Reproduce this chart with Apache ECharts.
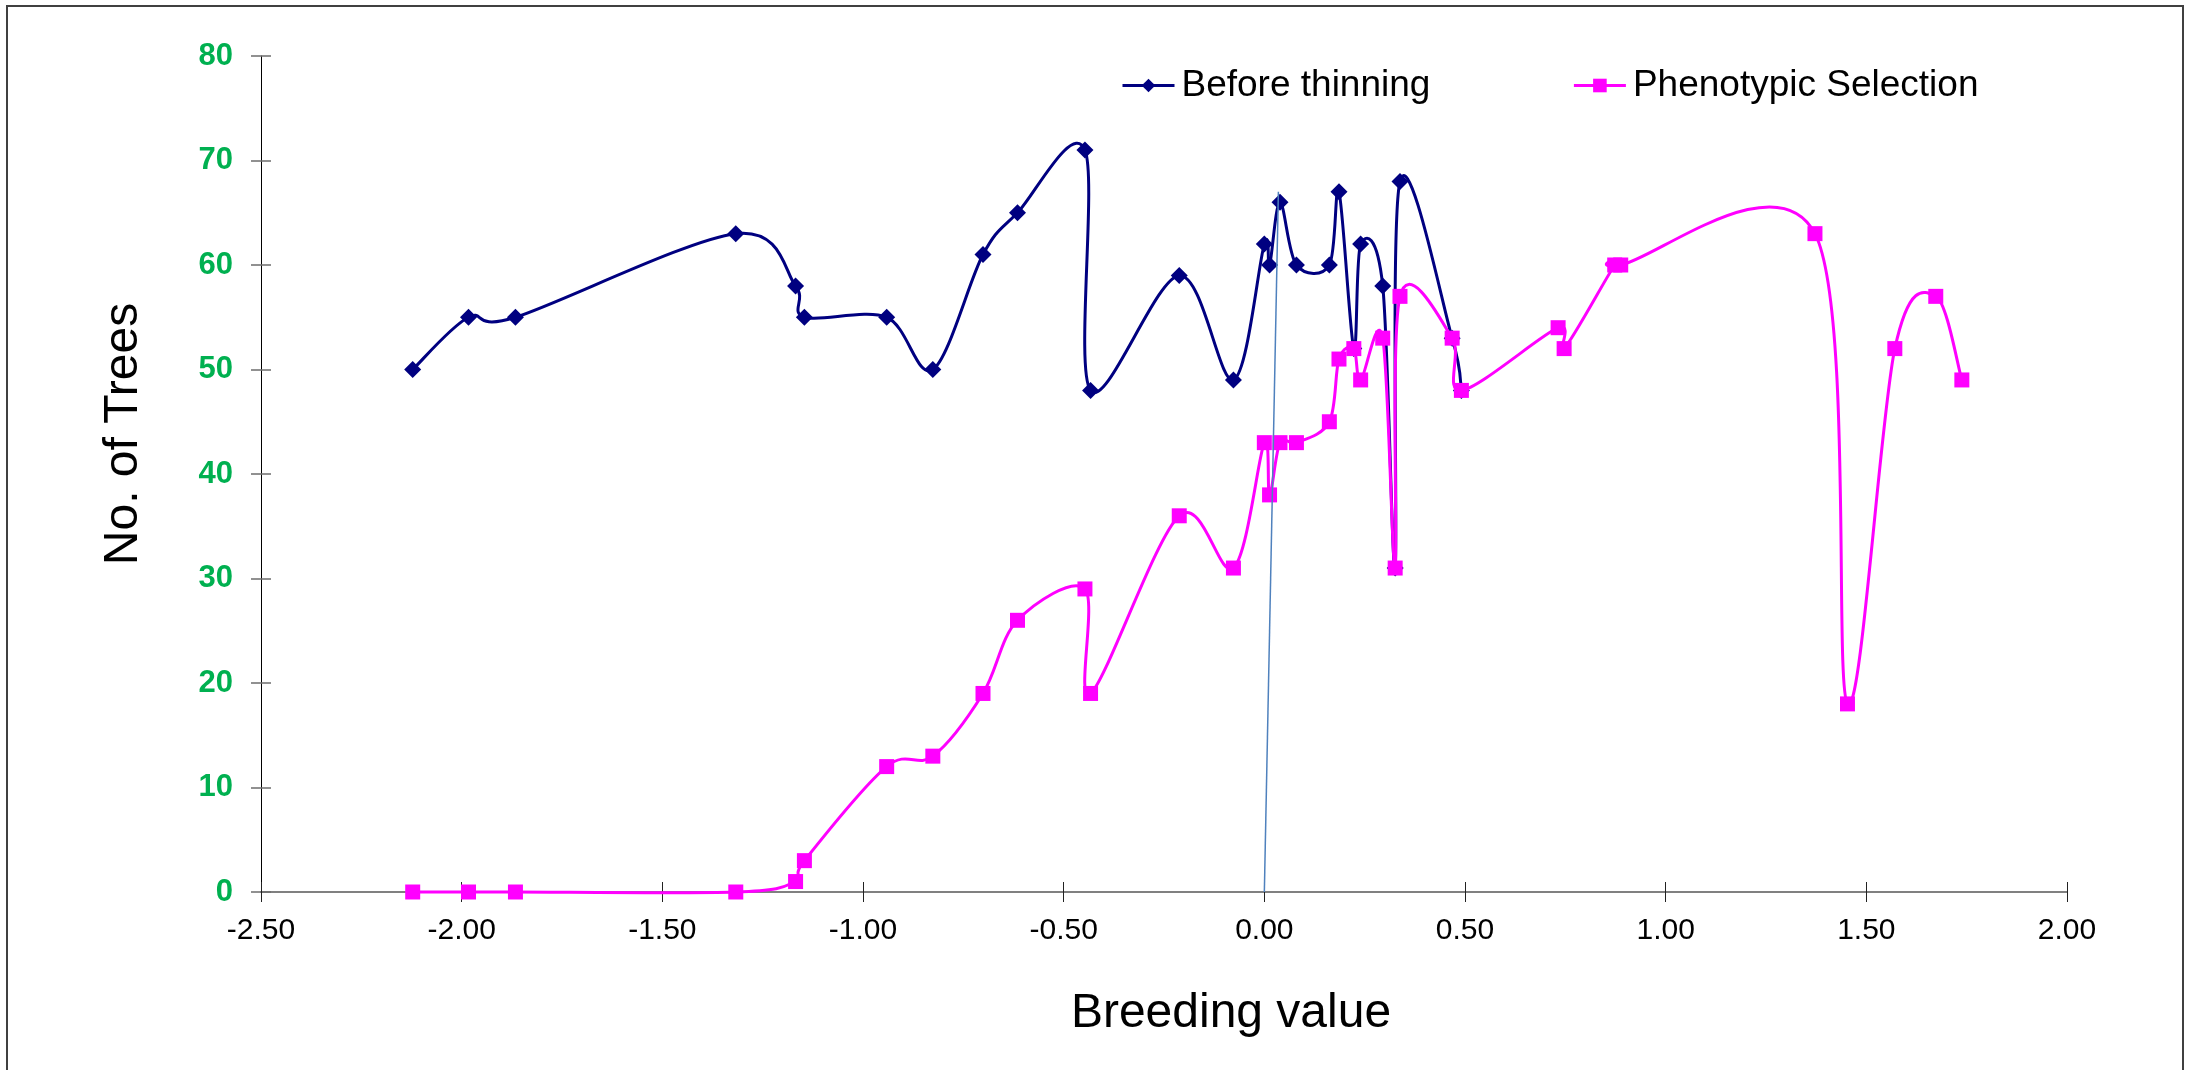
<!DOCTYPE html>
<html>
<head>
<meta charset="utf-8">
<script src="https://cdn.jsdelivr.net/npm/echarts@6/dist/echarts.min.js"></script>
<style>
  html, body { margin: 0; padding: 0; background: #ffffff; }
  #chart { width: 2200px; height: 1070px; }
</style>
</head>
<body>
<div id="chart"></div>
<script>
// ---- data ----
const breedingValue = [-2.122, -1.983, -1.866, -1.317, -1.168, -1.146, -0.941, -0.826, -0.701, -0.615,
  -0.447, -0.433, -0.212, -0.077, 0.000, 0.013, 0.039, 0.080, 0.162, 0.186,
  0.223, 0.240, 0.295, 0.326, 0.338, 0.468, 0.491, 0.732, 0.747, 0.873,
  0.888, 1.372, 1.453, 1.571, 1.673, 1.738];
const beforeThinning = [50, 55, 55, 63, 58, 55, 55, 50, 61, 65,
  71, 48, 59, 49, 62, 60, 66, 60, 60, 67,
  52, 62, 58, 31, 68, 53, 48];
const phenotypicSelection = [0, 0, 0, 0, 1, 3, 12, 13, 19, 26,
  29, 19, 36, 31, 43, 38, 43, 43, 45, 51,
  52, 49, 53, 31, 57, 53, 48, 54, 52, 60,
  60, 63, 18, 52, 57, 49];
const refLineX = [0.000, 0.035];
const refLineY = [0, 67];
const seriesNames = ['Before thinning', 'Phenotypic Selection'];
const xAxisTitle = 'Breeding value';
const yAxisTitle = 'No. of Trees';

const FONT = 'Liberation Sans, Arial, Helvetica, sans-serif';
const NAVY = '#000080';
const PINK = '#FF00FF';

function pairs(xs, ys) {
  return ys.map(function (y, i) { return [xs[i], y]; });
}

// Excel-style smoothed curve (cubic Bezier, tangents = (P[i+1]-P[i-1])/6 in screen space)
function smoothCurve(xs, ys, color, width, z) {
  const n = ys.length;
  return {
    type: 'custom',
    coordinateSystem: 'cartesian2d',
    xAxisIndex: 0, yAxisIndex: 0,
    silent: true,
    z: z,
    encode: { x: 0, y: 1 },
    data: pairs(xs, ys),
    renderItem: function (params, api) {
      const i = params.dataIndex;
      if (i >= n - 1) return null;
      const p = function (k) {
        k = Math.max(0, Math.min(n - 1, k));
        return api.coord([xs[k], ys[k]]);
      };
      const p0 = p(i - 1), p1 = p(i), p2 = p(i + 1), p3 = p(i + 2);
      return {
        type: 'bezierCurve',
        shape: {
          x1: p1[0], y1: p1[1], x2: p2[0], y2: p2[1],
          cpx1: p1[0] + (p2[0] - p0[0]) / 6, cpy1: p1[1] + (p2[1] - p0[1]) / 6,
          cpx2: p2[0] - (p3[0] - p1[0]) / 6, cpy2: p2[1] - (p3[1] - p1[1]) / 6
        },
        style: { fill: 'none', stroke: color, lineWidth: width, lineCap: 'round', lineJoin: 'round' }
      };
    }
  };
}

const chart = echarts.init(document.getElementById('chart'), null, { renderer: 'canvas' });

const xBase = { type: 'value', min: -2.5, max: 2.0, interval: 0.5, position: 'bottom', splitLine: { show: false } };
const yBase = { type: 'value', min: 0, max: 80, interval: 10, position: 'left', splitLine: { show: false } };

const option = {
  backgroundColor: '#ffffff',
  animation: false,
  grid: { left: 261, top: 56, width: 1806, height: 836, containLabel: false },
  xAxis: [
    Object.assign({}, xBase, {
      axisLine: { show: true, onZero: false, lineStyle: { color: '#808080', width: 2 } },
      axisTick: { show: true, inside: false, length: 10, lineStyle: { color: '#222222', width: 1 } },
      axisLabel: {
        show: true, margin: 24, color: '#000000', fontSize: 30, lineHeight: 30, fontFamily: FONT,
        formatter: function (v) { return v.toFixed(2); }
      }
    }),
    Object.assign({}, xBase, {
      axisLine: { show: false, onZero: false },
      axisTick: { show: true, inside: true, length: 10, lineStyle: { color: '#222222', width: 1 } },
      axisLabel: { show: false }
    })
  ],
  yAxis: [
    Object.assign({}, yBase, {
      axisLine: { show: true, onZero: false, lineStyle: { color: '#000000', width: 1 } },
      axisTick: { show: true, inside: false, length: 10, lineStyle: { color: '#6e6e6e', width: 1.5 } },
      axisLabel: { show: true, margin: 28, color: '#00B050', fontSize: 31, fontWeight: 'bold', fontFamily: FONT }
    }),
    Object.assign({}, yBase, {
      axisLine: { show: false, onZero: false },
      axisTick: { show: true, inside: true, length: 10, lineStyle: { color: '#6e6e6e', width: 1.5 } },
      axisLabel: { show: false }
    })
  ],
  legend: {
    show: true,
    data: seriesNames,
    orient: 'horizontal',
    left: 1121, top: 67,
    padding: 0,
    itemWidth: 52, itemHeight: 17, itemGap: 142,
    selectedMode: false,
    lineStyle: { width: 3, opacity: 1 },
    textStyle: { fontSize: 37, color: '#000000', fontFamily: FONT, padding: [0, 0, 0, 2] }
  },
  graphic: [
    {
      type: 'rect', silent: true, z: -10,
      shape: { x: 7, y: 6, width: 2176, height: 1100 },
      style: { fill: 'none', stroke: '#404040', lineWidth: 2 }
    },
    {
      type: 'text', silent: true,
      x: 1231, y: 1014,
      style: { text: xAxisTitle, fontSize: 48, fontFamily: FONT, fill: '#000000', align: 'center', verticalAlign: 'middle' }
    },
    {
      type: 'text', silent: true,
      x: 124, y: 434, rotation: Math.PI / 2,
      style: { text: yAxisTitle, fontSize: 48, fontFamily: FONT, fill: '#000000', align: 'center', verticalAlign: 'middle' }
    }
  ],
  series: [
    smoothCurve(breedingValue, beforeThinning, NAVY, 3, 2),
    {
      name: seriesNames[0], type: 'line', z: 3,
      data: pairs(breedingValue, beforeThinning),
      symbol: 'diamond', symbolSize: 17, showSymbol: true, showAllSymbol: true,
      itemStyle: { color: NAVY },
      lineStyle: { color: NAVY, width: 3, opacity: 0 },
      silent: true
    },
    smoothCurve(breedingValue, phenotypicSelection, PINK, 3, 4),
    {
      name: seriesNames[1], type: 'line', z: 5,
      data: pairs(breedingValue, phenotypicSelection),
      symbol: 'rect', symbolSize: 15, showSymbol: true, showAllSymbol: true,
      itemStyle: { color: PINK },
      lineStyle: { color: PINK, width: 3, opacity: 0 },
      silent: true
    },
    {
      name: 'ref', type: 'line', z: 6,
      data: pairs(refLineX, refLineY),
      showSymbol: false, symbol: 'none',
      lineStyle: { color: '#4F81BD', width: 1.5 },
      silent: true
    }
  ]
};

chart.setOption(option);
</script>
</body>
</html>
